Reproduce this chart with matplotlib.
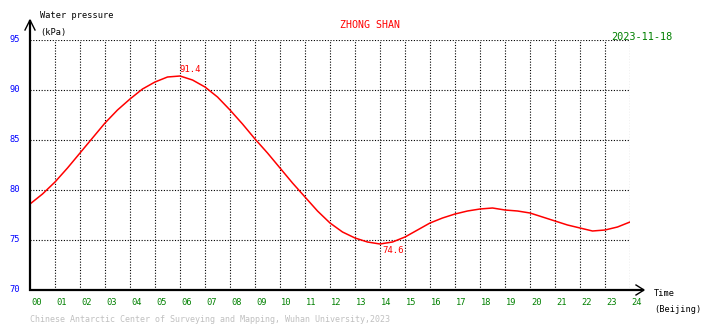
import matplotlib
matplotlib.use("Agg")
import matplotlib.pyplot as plt

# Half-hourly water pressure readings (kPa), Beijing time
hours = [0, 0.5, 1, 1.5, 2, 2.5, 3, 3.5, 4, 4.5, 5, 5.5, 6, 6.5, 7, 7.5, 8, 8.5,
         9, 9.5, 10, 10.5, 11, 11.5, 12, 12.5, 13, 13.5, 14, 14.5, 15, 15.5, 16,
         16.5, 17, 17.5, 18, 18.5, 19, 19.5, 20, 20.5, 21, 21.5, 22, 22.5, 23,
         23.5, 24]
pressure = [78.6, 79.6, 80.8, 82.2, 83.7, 85.2, 86.7, 88.0, 89.1, 90.1, 90.8,
            91.3, 91.4, 91.0, 90.3, 89.3, 88.0, 86.6, 85.1, 83.7, 82.2, 80.7,
            79.3, 77.9, 76.7, 75.8, 75.2, 74.8, 74.6, 74.8, 75.3, 76.0, 76.7,
            77.2, 77.6, 77.9, 78.1, 78.2, 78.0, 77.9, 77.7, 77.3, 76.9, 76.5,
            76.2, 75.9, 76.0, 76.3, 76.8]

x_ticks = list(range(0, 25))
x_labels = [f"{h:02d}" for h in x_ticks]
y_ticks = [70, 75, 80, 85, 90, 95]

max_val, max_hour = 91.4, 6.0
min_val, min_hour = 74.6, 14.0

station = "ZHONG SHAN"
date_str = "2023-11-18"
credit = "Chinese Antarctic Center of Surveying and Mapping, Wuhan University,2023"

W, H = 710, 328
fig = plt.figure(figsize=(W / 100, H / 100), dpi=100)
fig.patch.set_facecolor("white")

def fx(px):
    return px / W

def fy(py):
    return 1 - py / H

ax = fig.add_axes([fx(30), fy(290), fx(630) - fx(30), fy(40) - fy(290)])
ax.set_xlim(0, 24)
ax.set_ylim(70, 95)
for s in ax.spines.values():
    s.set_visible(False)
ax.set_xticks([])
ax.set_yticks([])

mono = "DejaVu Sans Mono"
dot = dict(color="black", lw=0.8, linestyle=(0, (1, 1.5)))

# dotted grid
for h in x_ticks[1:]:
    ax.axvline(h, **dot)
for v in y_ticks[1:]:
    ax.axhline(v, **dot)

# pressure curve
ax.plot(hours, pressure, color="red", lw=1.1, solid_joinstyle="round")

# extreme value annotations
ax.text(max_hour, max_val + 0.15, f"{max_val}", color="red", fontsize=6.5,
        family=mono, ha="left", va="bottom")
ax.text(min_hour + 0.1, min_val - 0.2, f"{min_val}", color="red", fontsize=6.5,
        family=mono, ha="left", va="top")

# tick labels
for h, lab in zip(x_ticks, x_labels):
    ax.text(h + 0.05, 69.2, lab, color="green", fontsize=6.3, family=mono,
            ha="left", va="top", clip_on=False)
for v in y_ticks:
    fig.text(fx(20), fy(290 - (v - 70) * 10), f"{v}", color="blue", fontsize=6.3,
             family=mono, ha="right", va="center")

# axes with arrows (figure-pixel coordinates)
ov = fig.add_axes([0, 0, 1, 1], facecolor="none")
ov.set_xlim(0, W)
ov.set_ylim(H, 0)
ov.axis("off")
ov.plot([30, 30], [291, 20], color="black", lw=1.6, solid_capstyle="butt")
ov.plot([29, 644], [290, 290], color="black", lw=1.6, solid_capstyle="butt")
ov.plot([25, 30, 35], [30, 20, 30], color="black", lw=1.0)
ov.plot([636, 644, 636], [285, 290, 295], color="black", lw=1.0)

# titles and captions
fig.text(fx(40), fy(16), "Water pressure", fontsize=6.2, family=mono,
         color="black", ha="left", va="center")
fig.text(fx(40), fy(33), "(kPa)", fontsize=6.2, family=mono,
         color="black", ha="left", va="center")
fig.text(fx(370), fy(25), station, fontsize=7.2, family=mono,
         color="red", ha="center", va="center")
fig.text(fx(672), fy(37), date_str, fontsize=7.4, family=mono,
         color="green", ha="right", va="center")
fig.text(fx(654), fy(294), "Time", fontsize=6.2, family=mono,
         color="black", ha="left", va="center")
fig.text(fx(654), fy(310), "(Beijing)", fontsize=6.2, family=mono,
         color="black", ha="left", va="center")
fig.text(fx(30), fy(320), credit, fontsize=6.0, family=mono,
         color="#c0c0c0", ha="left", va="center")

fig.savefig("out.png", dpi=100)
